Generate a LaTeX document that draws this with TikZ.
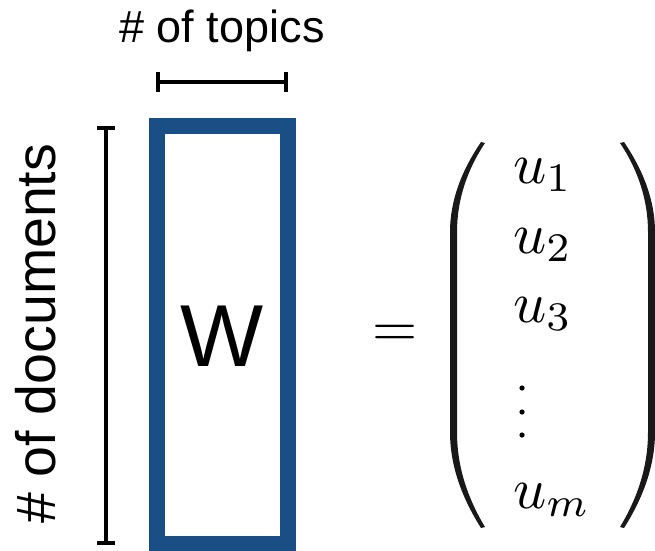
\documentclass[tikz,border=0pt]{standalone}
\usepackage{fontspec}
\setmainfont{Liberation Sans}
\usepackage{graphicx}
\definecolor{wblue}{RGB}{26,79,134}
\newcommand{\myscaledmath}[1]{\scalebox{5.8}{$#1$}}
\begin{document}
\begin{tikzpicture}[x=1pt,y=-1pt,
  bar/.style={line width=4pt,black},
  lbl/.style={inner sep=0pt},
  mth/.style={inner sep=0pt},
  paren/.style={fill=black!90,draw=none}]
\useasboundingbox (0,0) rectangle (655,550);
% W matrix box
\draw[wblue,line width=16pt] (156.5,125.5) rectangle (287.5,543.5);
\node[lbl,font=\fontsize{88}{90}\selectfont] (W) at (222,336) {W};
% topics bar
\coordinate (tl) at (158,82);
\coordinate (tr) at (286,82);
\draw[bar] (tl) -- (tr);
\draw[bar] (158,72) -- (158,92);
\draw[bar] (286,72) -- (286,92);
\node[lbl,anchor=base,font=\fontsize{45}{46}\selectfont] (topics) at (222,42) {\# of topics};
% documents bar
\coordinate (dt) at (106,128);
\coordinate (db) at (106,543);
\draw[bar] (dt) -- (db);
\draw[bar] (97,128) -- (115,128);
\draw[bar] (97,543) -- (115,543);
\node[lbl,anchor=base,rotate=90,font=\fontsize{55.5}{57}\selectfont] (docs) at (55,333.5) {\# of documents};
% equals
\node[mth] (eq) at (395,336) {\myscaledmath{=}};
% parentheses
\fill[paren] (481,142) .. controls (462,170) and (450,200) .. (450,232) -- (450,432)
  .. controls (450,466) and (462,498) .. (481,528) -- (485,527)
  .. controls (467,497) and (457,466) .. (457,432) -- (457,232)
  .. controls (457,200) and (467,170) .. (485,143) -- cycle;
\fill[paren] (624,142) .. controls (643,170) and (655,200) .. (655,232) -- (655,432)
  .. controls (655,466) and (643,498) .. (624,528) -- (620,527)
  .. controls (638,497) and (648,466) .. (648,432) -- (648,232)
  .. controls (648,200) and (638,170) .. (620,143) -- cycle;
% vector entries
\node[mth,anchor=base west] (u1) at (513,183) {\myscaledmath{u_1}};
\node[mth,anchor=base west] (u2) at (513,253) {\myscaledmath{u_2}};
\node[mth,anchor=base west] (u3) at (513,322) {\myscaledmath{u_3}};
\fill (522,388) circle (2.6);
\fill (522,412) circle (2.6);
\fill (522,435) circle (2.6);
\node[mth,anchor=base west] (um) at (513,508) {\myscaledmath{u_m}};
\end{tikzpicture}
\end{document}
